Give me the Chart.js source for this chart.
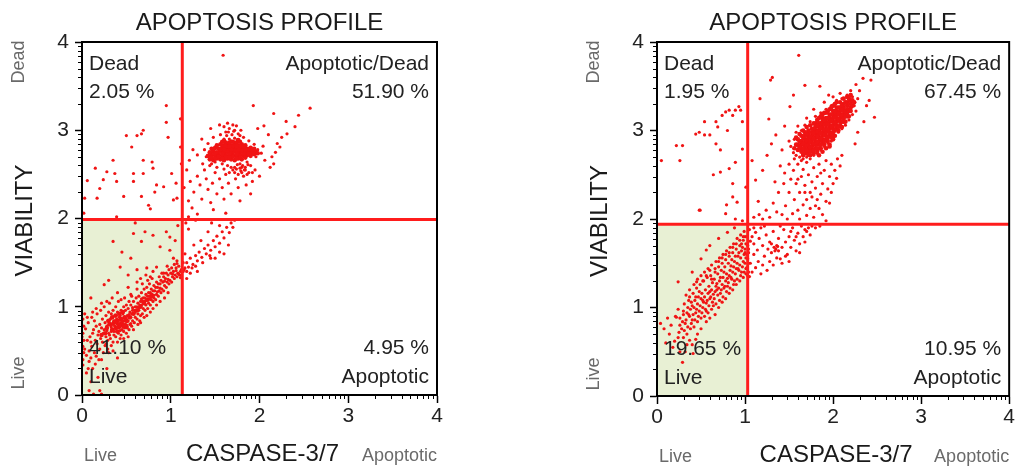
<!DOCTYPE html>
<html>
<head>
<meta charset="utf-8">
<script src="https://cdn.jsdelivr.net/npm/chart.js@4.4.1/dist/chart.umd.min.js"></script>
<style>
body{margin:0;background:#fff;width:1016px;height:471px;overflow:hidden;position:relative;}
canvas{position:absolute;top:0;}
#c1{left:0;}
#c2{left:570px;}
</style>
</head>
<body>
<canvas id="c1" width="500" height="471"></canvas>
<canvas id="c2" width="446" height="471"></canvas>
<script>
// axis ticks (decades)
var tickValues = [0, 1, 2, 3, 4];
// quadrant gates [left panel, right panel]
var gateX = [1.13, 1.03];
var gateY = [1.99, 1.94];
// quadrant percentages: dead, apoptotic/dead, live, apoptotic
var pctLeft = ['2.05 %', '51.90 %', '41.10 %', '4.95 %'];
var pctRight = ['1.95 %', '67.45 %', '19.65 %', '10.95 %'];

// ---- left panel events ----
var leftDead = [[0.06,2.43],[0.15,2.57],[0.20,2.34],[0.28,2.53],[0.37,2.51],[0.35,2.66],[0.39,2.42],[0.50,2.94],[0.56,2.81],[0.62,2.94],[0.67,2.96],[0.69,3.00],[0.58,2.51],[0.58,2.42],[0.67,2.25],[0.69,2.51],[0.75,2.15],[0.77,2.11],[0.79,2.64],[0.84,2.38],[0.82,2.30],[0.92,2.36],[0.95,3.28],[0.95,3.09],[0.97,2.92],[1.03,2.21],[1.07,2.23],[1.11,3.13],[1.12,2.62],[1.11,2.81],[0.03,2.23],[0.02,2.06],[0.39,2.02],[0.17,2.23],[0.47,2.25],[0.69,2.66],[1.01,2.51],[0.80,2.57],[0.24,2.44],[1.06,2.40]];
var leftUpper = [[1.59,3.85],[1.93,3.28],[2.16,3.19],[2.57,3.25],[2.44,3.17],[2.40,3.04],[2.31,2.96],[2.25,2.92],[2.20,2.85],[2.23,2.81],[2.18,2.75],[2.14,2.70],[2.16,2.62],[2.12,2.58],[2.30,3.10],[2.05,3.05],[2.10,2.95],[1.98,3.02],[1.45,3.02],[1.55,3.06],[1.35,2.90],[1.30,2.72],[1.25,2.78],[1.21,2.66],
[1.18,2.55],[1.22,2.42],[1.26,2.30],[1.20,2.20],[1.24,2.12],[1.30,2.48],[1.33,2.38],[1.35,2.22],[1.38,2.55],[1.40,2.45],[1.42,2.33],[1.45,2.18],[1.47,2.40],[1.50,2.52],[1.52,2.28],[1.55,2.45],[1.58,2.35],[1.60,2.22],[1.62,2.50],[1.65,2.40],[1.68,2.28],[1.70,2.55],[1.73,2.45],[1.76,2.35],[1.78,2.20],[1.82,2.48],[1.85,2.38],[1.88,2.52],[1.92,2.42],[1.95,2.55],[2.00,2.48],[1.30,2.05],[1.48,2.10],[1.62,2.06],[1.15,2.35],[1.36,2.62],[1.44,2.60],[1.90,2.28],
[1.38,2.78],[1.40,2.70],[1.42,2.85],[1.46,2.62],[1.48,2.92],[1.50,2.64],[1.52,2.58],[1.56,2.95],[1.58,2.62],[1.60,2.56],[1.62,2.98],[1.64,2.60],[1.66,3.02],[1.68,2.58],[1.72,3.00],[1.74,2.56],[1.76,2.96],[1.78,2.62],[1.80,2.58],[1.82,2.92],[1.84,2.55],[1.86,2.64],[1.88,2.88],[1.90,2.60],[1.94,2.84],[1.96,2.70],[1.98,2.78],[2.02,2.74],[2.04,2.82],[2.06,2.66],[1.92,2.52],[1.86,2.50],[1.80,2.52],[1.76,2.50],[1.72,2.52],[1.66,2.52],[1.60,3.04],[1.70,3.06],[1.64,3.08],[1.74,3.05],[1.79,3.00],
[1.60,2.90],[1.63,2.94],[1.66,2.90],[1.69,2.95],[1.72,2.91],[1.75,2.89],[1.78,2.94],[1.65,2.98],[1.71,2.99],[1.68,2.88],
[1.72,2.58],[1.75,2.61],[1.78,2.57],[1.81,2.60],[1.84,2.58],[1.87,2.61],[1.79,2.54],[1.83,2.55]];
var leftCore = [[1.44,2.67],[1.48,2.66],[1.52,2.68],[1.56,2.67],[1.60,2.66],[1.64,2.68],[1.68,2.67],[1.72,2.66],[1.76,2.68],[1.80,2.67],
[1.42,2.71],[1.46,2.72],[1.50,2.71],[1.54,2.72],[1.58,2.71],[1.62,2.72],[1.66,2.71],[1.70,2.72],[1.74,2.71],[1.78,2.72],[1.82,2.71],[1.86,2.72],[1.90,2.71],
[1.44,2.75],[1.48,2.76],[1.52,2.75],[1.56,2.76],[1.60,2.75],[1.64,2.76],[1.68,2.75],[1.72,2.76],[1.76,2.75],[1.80,2.76],[1.84,2.75],[1.88,2.76],[1.92,2.75],[1.96,2.76],
[1.46,2.79],[1.50,2.80],[1.54,2.79],[1.58,2.80],[1.62,2.79],[1.66,2.80],[1.70,2.79],[1.74,2.80],[1.78,2.79],[1.82,2.80],[1.86,2.79],[1.90,2.80],[1.94,2.79],
[1.52,2.83],[1.56,2.84],[1.60,2.83],[1.64,2.84],[1.68,2.83],[1.72,2.84],[1.76,2.83],[1.80,2.84],[1.84,2.83],
[1.58,2.87],[1.62,2.86],[1.70,2.87],[1.74,2.86],[1.78,2.87],
[1.46,2.69],[1.54,2.70],[1.62,2.69],[1.70,2.70],[1.78,2.69],[1.50,2.74],[1.58,2.73],[1.66,2.74],[1.74,2.73],[1.82,2.74],[1.90,2.73],[1.56,2.78],[1.64,2.77],[1.72,2.78],[1.80,2.77],[1.88,2.78],[1.62,2.82],[1.70,2.81],[1.78,2.82],
[1.50,2.68],[1.58,2.68],[1.66,2.69],[1.74,2.68],[1.84,2.69],[1.88,2.73],[1.94,2.73],[1.98,2.74],[1.48,2.78],[1.60,2.78],[1.68,2.78],[1.76,2.78],[1.84,2.78],[1.92,2.78],[1.66,2.82],[1.74,2.82],[1.82,2.82],[1.66,2.86],[1.60,2.88],[1.76,2.89]];
var leftBridge = [[1.15,1.42],[1.18,1.50],[1.20,1.45],[1.22,1.55],[1.25,1.48],[1.28,1.58],[1.30,1.52],[1.32,1.62],[1.35,1.56],[1.38,1.66],[1.40,1.60],[1.42,1.70],[1.45,1.64],[1.48,1.75],[1.50,1.68],[1.52,1.80],[1.55,1.72],[1.58,1.85],[1.60,1.78],[1.63,1.90],[1.66,1.84],[1.68,1.95],[1.70,1.90],[1.72,1.98],[1.26,1.70],[1.34,1.75],[1.42,1.85],[1.50,1.55],[1.55,1.92],[1.46,1.95],[1.20,1.88],[1.17,1.95],[1.16,1.60],[1.14,1.50],[1.24,1.44],[1.28,1.46],[1.36,1.50],[1.44,1.58],[1.60,1.60],[1.20,2.02],[1.28,1.98],[1.18,1.32],[1.22,1.38],[1.30,1.40],[1.45,1.55],[1.55,1.62],[1.65,1.70],[1.12,1.36],[1.14,1.40],[1.16,1.44],[1.18,1.40]];
var leftLive = [[0.58,1.83],[0.71,1.85],[0.80,1.81],[0.35,1.74],[0.67,1.74],[0.95,1.85],[0.99,1.79],[0.43,1.45],[0.52,1.36],[0.62,1.42],[0.73,1.44],[0.84,1.45],[0.77,1.34],[0.92,1.38],[0.99,1.64],[1.03,1.55],[1.07,1.49],[0.45,1.62],[0.55,1.55],[0.30,1.30],[0.25,1.25],[0.88,1.68],[1.05,1.75],[1.08,1.92],[0.60,1.95],[0.10,1.10],
[0.01,0.40],[0.02,0.48],[0.01,0.55],[0.02,0.62],[0.01,0.70],[0.02,0.78],[0.01,0.86],[0.03,0.52],[0.00,0.66],[0.03,0.92],[0.01,0.34],
[0.05,0.25],[0.10,0.15],[0.15,0.35],[0.20,0.05],[0.22,0.40],[0.28,0.30],[0.08,0.05],[0.30,0.48],[0.12,0.30],[0.35,0.50],[0.40,0.42],[0.18,0.20],[0.13,0.01],[0.22,0.01],
[0.05,0.45],[0.06,0.62],[0.04,0.75],[0.08,0.50],[0.09,0.66],[0.07,0.82],[0.08,0.38],[0.11,0.55],[0.12,0.70],[0.10,0.60],[0.11,0.88],[0.14,0.48],[0.15,0.62],[0.13,0.74],[0.14,0.84],[0.17,0.58],[0.18,0.68],[0.16,0.78],[0.17,0.92],[0.20,0.52],[0.21,0.64],[0.19,0.72],[0.20,0.80],[0.21,0.96],[0.23,0.60],[0.24,0.70],[0.22,0.76],[0.23,0.86],[0.26,0.56],[0.27,0.66],[0.25,0.74],[0.26,0.82],[0.27,0.90],[0.25,1.00],[0.29,0.62],[0.30,0.70],[0.28,0.78],[0.29,0.84],[0.30,0.94],[0.32,0.64],[0.33,0.72],[0.31,0.80],[0.32,0.86],[0.33,0.92],[0.31,1.04],
[0.35,0.60],[0.36,0.68],[0.34,0.74],[0.35,0.80],[0.36,0.84],[0.34,0.88],[0.35,0.96],[0.38,0.66],[0.39,0.72],[0.37,0.78],[0.38,0.82],[0.39,0.86],[0.37,0.90],[0.38,1.00],[0.41,0.70],[0.42,0.76],[0.40,0.80],[0.41,0.84],[0.42,0.88],[0.40,0.94],[0.41,1.06],[0.44,0.68],[0.45,0.74],[0.43,0.78],[0.44,0.82],[0.45,0.86],[0.43,0.90],[0.44,0.96],[0.47,0.72],[0.48,0.76],[0.46,0.80],[0.47,0.84],[0.48,0.88],[0.46,0.92],[0.47,1.00],[0.48,1.10],[0.50,0.70],[0.51,0.76],[0.49,0.80],[0.50,0.86],[0.51,0.90],[0.49,0.96],[0.50,1.02],
[0.53,0.74],[0.54,0.80],[0.52,0.84],[0.53,0.88],[0.54,0.94],[0.52,0.98],[0.53,1.06],[0.56,0.78],[0.57,0.84],[0.55,0.88],[0.56,0.92],[0.57,0.96],[0.55,1.02],[0.56,1.12],[0.59,0.82],[0.60,0.88],[0.58,0.92],[0.59,0.96],[0.60,1.00],[0.58,1.06],[0.62,0.86],[0.63,0.92],[0.61,0.96],[0.62,1.00],[0.63,1.04],[0.61,1.10],[0.62,1.20],[0.65,0.84],[0.66,0.90],[0.64,0.96],[0.65,1.02],[0.66,1.06],[0.64,1.12],
[0.68,0.92],[0.69,0.98],[0.67,1.02],[0.68,1.06],[0.69,1.10],[0.67,1.16],[0.68,1.26],[0.71,0.96],[0.72,1.02],[0.70,1.06],[0.71,1.10],[0.72,1.14],[0.70,1.20],[0.74,0.98],[0.75,1.04],[0.73,1.08],[0.74,1.12],[0.75,1.16],[0.73,1.22],[0.74,1.30],[0.77,1.02],[0.78,1.08],[0.76,1.12],[0.77,1.16],[0.78,1.20],[0.76,1.26],
[0.80,1.06],[0.81,1.10],[0.79,1.14],[0.80,1.18],[0.81,1.24],[0.79,1.32],[0.83,1.08],[0.84,1.14],[0.82,1.18],[0.83,1.22],[0.84,1.28],[0.86,1.12],[0.87,1.18],[0.85,1.22],[0.86,1.26],[0.87,1.34],[0.89,1.16],[0.90,1.20],[0.88,1.26],[0.89,1.30],[0.90,1.38],[0.92,1.18],[0.93,1.24],[0.91,1.28],[0.92,1.34],
[0.95,1.22],[0.96,1.28],[0.94,1.32],[0.95,1.38],[0.96,1.46],[0.98,1.26],[0.99,1.30],[0.97,1.36],[0.98,1.42],[1.01,1.28],[1.02,1.34],[1.00,1.38],[1.01,1.44],[1.04,1.32],[1.05,1.36],[1.03,1.40],[1.04,1.48],[1.07,1.34],[1.08,1.38],[1.06,1.44],[1.07,1.52],[1.10,1.36],[1.11,1.40],[1.09,1.46]];
var leftLiveExtra = [[0.47,0.64],[0.52,0.66],[0.44,1.08],[0.55,1.14],[0.58,0.74],[0.63,0.80],[0.66,0.82],[0.70,0.88],[0.73,0.90],[0.77,0.94],[0.80,0.98],[0.84,1.02],[0.88,1.06],[0.93,1.10],[0.97,1.16],[0.62,1.28],[0.66,1.32],[0.72,1.36],[0.80,1.40],[0.52,1.22],[0.40,1.16],[0.34,1.10],[0.28,1.06],[0.22,1.04],[0.16,0.98],[0.12,0.94],[0.06,0.88],[0.07,0.30],[0.10,0.42],[0.16,0.44],[0.19,0.40],[0.24,0.48],[0.29,0.52],[0.33,0.56],[0.40,0.60],[0.43,0.64],[0.27,0.58],[0.31,0.68],[0.36,0.72],[0.39,0.76],[0.42,0.81],[0.45,0.83],[0.49,0.85],[0.51,0.83],[0.43,0.73],[0.40,0.77],[0.37,0.84],[0.33,0.77],[0.30,0.80],[0.28,0.73],[0.46,0.77],[0.53,0.91],[0.55,0.81],[0.60,0.94],[0.64,0.99],[0.57,0.99],[0.67,1.09],[0.72,1.07],[0.76,1.09],[0.81,1.13],[0.85,1.17],[0.88,1.21],[0.93,1.29],[0.97,1.31],[1.02,1.37],[1.06,1.41],[1.09,1.37],[1.12,1.42],[1.11,1.33]];
var leftLiveCore = [[0.28,0.76],[0.32,0.80],[0.36,0.82],[0.40,0.84],[0.44,0.86],[0.48,0.88],[0.34,0.74],[0.38,0.76],[0.42,0.78],[0.46,0.80],[0.50,0.84],[0.54,0.88],[0.30,0.84],[0.34,0.88],[0.38,0.90],[0.42,0.92],[0.46,0.94],[0.58,0.92],[0.62,0.96],[0.66,1.00],[0.70,1.04],[0.74,1.08],[0.78,1.12],[0.40,0.72],[0.50,0.78],[0.26,0.70],[0.22,0.68]];

// ---- right panel events ----
var rightDead = [[0.05,2.66],[0.22,2.83],[0.29,2.83],[0.26,2.66],[0.44,2.96],[0.48,2.98],[0.54,3.10],[0.67,3.10],[0.69,3.04],[0.74,3.17],[0.78,3.21],[0.82,3.23],[0.86,3.17],[0.89,3.23],[0.93,3.27],[0.95,3.23],[0.54,2.95],[0.67,2.85],[0.72,2.78],[0.72,2.53],[0.82,2.57],[0.86,2.40],[0.89,2.64],[0.97,2.79],[0.97,3.10],[0.48,2.10],[0.78,2.06],[0.89,2.00],[0.97,1.98],[0.86,2.25],[1.01,2.36],[0.91,2.19],[0.60,2.95],[0.80,3.00],[0.64,2.50]];
var rightUpper = [[1.61,3.85],[1.31,3.60],[1.29,3.57],[1.17,3.36],[1.68,3.51],[1.27,3.13],[1.51,3.27],[1.12,2.44],[1.08,2.66],[1.42,2.78],[2.43,3.57],[2.34,3.59],[2.47,3.15],[2.41,3.34],[2.38,3.28],[2.30,3.45],[2.26,3.52],[2.20,3.45],[1.55,3.40],[1.85,3.50],[1.95,3.40],[1.45,3.05],[1.35,2.95],[1.25,2.72],[1.20,2.55],[1.30,2.85],[1.15,2.20],[2.35,3.10],[2.28,2.98],[2.25,2.85],
[1.55,2.75],[1.52,2.82],[1.56,2.90],[1.58,2.98],[1.60,3.05],[1.62,2.70],[1.66,2.68],[1.70,2.70],[1.74,2.68],[1.78,2.72],[1.82,2.74],[1.86,2.78],[1.90,2.82],[1.94,2.86],[1.98,2.88],[2.02,2.94],[2.06,2.98],[2.10,3.02],[2.14,3.06],[2.18,3.12],[2.22,3.18],[2.24,3.28],[2.22,3.38],[2.16,3.40],[2.10,3.36],[2.04,3.34],[1.98,3.28],[1.92,3.24],[1.86,3.20],[1.80,3.16],[1.74,3.10],[1.68,3.06],[1.64,3.00],[2.00,3.38],[2.08,3.42],[1.90,3.32],[2.26,3.22],[2.28,3.36],[1.70,3.14],[1.78,3.24],[1.50,2.88],[1.58,2.72],
[1.40,2.60],[1.45,2.52],[1.50,2.62],[1.52,2.45],[1.55,2.55],[1.58,2.40],[1.60,2.62],[1.62,2.30],[1.64,2.48],[1.66,2.56],[1.68,2.38],[1.70,2.22],[1.70,2.64],[1.72,2.50],[1.74,2.30],[1.76,2.42],[1.78,2.58],[1.80,2.15],[1.80,2.35],[1.82,2.48],[1.84,2.62],[1.86,2.28],[1.88,2.40],[1.90,2.55],[1.92,2.20],[1.94,2.34],[1.96,2.48],[1.98,2.62],[2.00,2.40],[2.02,2.55],[2.05,2.68],[2.08,2.60],[2.10,2.72],[1.88,2.05],[1.84,2.12],[1.92,1.98],[1.78,2.02],[1.74,2.12],[1.66,2.16],[1.60,2.10],[1.56,2.22],[1.50,2.30],[1.46,2.15],[1.42,2.05],[1.36,2.08],[1.32,2.18],[1.28,2.02],[1.24,2.10],[1.20,2.00],[1.16,2.05],[1.10,2.02],[1.48,2.00],[1.54,2.06],[1.62,2.00],[1.70,2.04],[1.76,2.25],[1.68,2.30],[1.60,2.45],[1.82,2.22],[1.86,2.52],[1.96,2.18],[1.72,2.72],[1.64,2.66],[1.56,2.68],[1.44,2.40],[1.38,2.30],[1.34,2.42],[1.92,2.66],[1.98,2.30],[2.04,2.46]];
var rightCore = [[1.60,2.78],[1.60,2.84],[1.60,2.90],[1.64,2.76],[1.64,2.80],[1.64,2.84],[1.64,2.88],[1.64,2.94],[1.68,2.78],[1.68,2.82],[1.68,2.86],[1.68,2.90],[1.68,2.94],[1.68,2.98],
[1.72,2.76],[1.72,2.80],[1.72,2.84],[1.72,2.88],[1.72,2.92],[1.72,2.96],[1.72,3.00],[1.76,2.78],[1.76,2.82],[1.76,2.86],[1.76,2.90],[1.76,2.94],[1.76,2.98],[1.76,3.02],
[1.80,2.80],[1.80,2.84],[1.80,2.88],[1.80,2.92],[1.80,2.96],[1.80,3.00],[1.80,3.04],[1.80,3.08],[1.84,2.84],[1.84,2.88],[1.84,2.92],[1.84,2.96],[1.84,3.00],[1.84,3.04],[1.84,3.08],
[1.88,2.86],[1.88,2.90],[1.88,2.94],[1.88,2.98],[1.88,3.02],[1.88,3.06],[1.88,3.10],[1.88,3.14],[1.92,2.90],[1.92,2.94],[1.92,2.98],[1.92,3.02],[1.92,3.06],[1.92,3.10],[1.92,3.14],
[1.96,2.94],[1.96,2.98],[1.96,3.02],[1.96,3.06],[1.96,3.10],[1.96,3.14],[1.96,3.18],[2.00,2.98],[2.00,3.02],[2.00,3.06],[2.00,3.10],[2.00,3.14],[2.00,3.18],[2.00,3.22],
[2.04,3.02],[2.04,3.06],[2.04,3.10],[2.04,3.14],[2.04,3.18],[2.04,3.22],[2.04,3.26],[2.08,3.06],[2.08,3.10],[2.08,3.14],[2.08,3.18],[2.08,3.22],[2.08,3.26],
[2.12,3.10],[2.12,3.14],[2.12,3.18],[2.12,3.22],[2.12,3.26],[2.12,3.30],[2.16,3.16],[2.16,3.20],[2.16,3.24],[2.16,3.28],[2.16,3.32],[2.20,3.22],[2.20,3.26],[2.20,3.30],[2.20,3.34],
[1.62,2.81],[1.66,2.79],[1.66,2.85],[1.70,2.83],[1.70,2.89],[1.74,2.81],[1.74,2.87],[1.74,2.93],[1.78,2.85],[1.78,2.91],[1.78,2.97],[1.82,2.87],[1.82,2.93],[1.82,2.99],[1.86,2.91],[1.86,2.97],[1.86,3.03],[1.90,2.95],[1.90,3.01],[1.90,3.07],[1.94,3.01],[1.94,3.07],[1.98,3.05],[1.98,3.11],[2.02,3.09],[2.02,3.15],[2.06,3.13],[2.06,3.19],[2.10,3.17],[2.10,3.23],[2.14,3.21]];
var rightCoreExtra = [[1.66,2.72],[1.70,2.74],[1.74,2.72],[1.78,2.74],[1.82,2.76],[1.84,2.72],[1.86,2.80],[1.88,2.76],[1.90,2.84],[1.92,2.80],[1.94,2.88],[1.96,2.84],[1.98,2.92],[2.00,2.90],[2.02,2.94],[2.06,3.00],[2.10,3.04],[2.14,3.10],[2.18,3.16],
[1.62,2.96],[1.66,3.00],[1.70,3.04],[1.74,3.06],[1.78,3.08],[1.82,3.12],[1.84,3.14],[1.86,3.16],[1.88,3.18],[1.90,3.20],[1.92,3.20],[1.94,3.22],[1.96,3.24],[1.98,3.26],[2.00,3.28],[2.02,3.30],[2.04,3.32],[2.08,3.32],[2.12,3.36],[2.16,3.38],[2.20,3.40],
[1.70,2.78],[1.74,2.76],[1.78,2.78],[1.82,2.80],[1.86,2.84],[1.90,2.88],[1.94,2.92],[1.98,2.96],[2.02,3.00],[1.78,3.02],[1.82,3.06],[1.86,3.08],[1.90,3.12],[1.94,3.14],[1.98,3.18],[2.02,3.22],[2.06,3.26],[2.10,3.28],[2.14,3.32],[2.18,3.36],[1.66,2.92],[1.70,2.96],[1.62,2.88],[1.58,2.84],[1.58,2.92],[1.56,2.80],[1.66,2.74],[1.96,2.82],[2.00,2.94],[2.06,3.04],[2.10,3.10],[2.14,3.16],[2.18,3.22],[2.22,3.28],[2.22,3.34],[2.24,3.32]];
var rightBridge = [[1.05,1.88],[1.08,1.80],[1.10,1.72],[1.12,1.85],[1.14,1.65],[1.16,1.78],[1.18,1.90],[1.20,1.70],[1.22,1.58],[1.24,1.82],[1.26,1.66],[1.28,1.74],[1.30,1.62],[1.32,1.86],[1.33,1.68],[1.35,1.66],[1.36,1.70],[1.38,1.64],[1.38,1.78],[1.40,1.55],[1.42,1.68],[1.44,1.88],[1.46,1.74],[1.48,1.60],[1.50,1.80],[1.52,1.68],[1.54,1.90],[1.56,1.76],[1.58,1.64],[1.60,1.84],[1.62,1.72],[1.64,1.92],[1.66,1.80],[1.68,1.88],[1.70,1.86],[1.72,1.90],[1.74,1.82],[1.76,1.92],[1.80,1.90],[1.85,1.92],[1.06,1.50],[1.08,1.40],[1.10,1.60],[1.12,1.45],[1.15,1.52],[1.18,1.38],[1.20,1.48],[1.25,1.42],[1.28,1.52],[1.32,1.48],[1.36,1.56],[1.42,1.50],[1.46,1.58],[1.50,1.52],[1.05,1.35],[1.04,1.62],[1.06,1.75],[1.30,1.72],[1.34,1.64],[1.37,1.69],[1.52,1.86],[1.58,1.80],[1.10,1.90],[1.22,1.92],[1.40,1.92],[1.62,1.62],[1.68,1.74],
[1.02,1.45],[1.03,1.55],[1.04,1.50],[1.02,1.60],[1.03,1.70],[1.04,1.40],[1.02,1.80],[1.04,1.66],[1.03,1.36]];
var rightLive = [[0.04,0.82],[0.14,0.70],[0.22,0.89],[0.29,0.38],[0.37,0.63],[0.41,0.48],[0.46,0.70],[0.18,0.55],[0.26,0.50],[0.34,0.58],[0.50,0.76],[0.10,0.60],[0.56,0.84],[0.60,0.88],[0.56,1.65],[0.45,1.29],[0.24,1.29],[0.37,1.12],[0.40,1.40],[0.50,1.55],[0.60,1.70],[0.70,1.78],[0.80,1.85],[0.88,1.90],[0.49,2.10],[0.79,2.16],
[0.20,0.62],[0.21,0.90],[0.25,0.72],[0.26,0.80],[0.24,0.98],[0.30,0.66],[0.31,0.74],[0.29,0.84],[0.30,0.92],[0.31,1.04],[0.34,0.70],[0.35,0.78],[0.33,0.86],[0.34,0.94],[0.35,1.00],[0.33,1.14],
[0.38,0.76],[0.39,0.82],[0.37,0.90],[0.38,0.98],[0.39,1.06],[0.37,1.20],[0.42,0.78],[0.43,0.86],[0.41,0.92],[0.42,1.00],[0.43,1.08],[0.41,1.16],[0.42,1.26],[0.46,0.84],[0.47,0.90],[0.45,0.98],[0.46,1.04],[0.47,1.12],[0.45,1.22],[0.46,1.32],
[0.50,0.88],[0.51,0.94],[0.49,1.02],[0.50,1.10],[0.51,1.16],[0.49,1.26],[0.50,1.36],[0.54,0.90],[0.55,0.98],[0.53,1.06],[0.54,1.12],[0.55,1.20],[0.53,1.30],[0.54,1.40],[0.58,0.94],[0.59,1.02],[0.57,1.08],[0.58,1.16],[0.59,1.24],[0.57,1.34],[0.58,1.44],
[0.62,0.98],[0.63,1.06],[0.61,1.12],[0.62,1.20],[0.63,1.28],[0.61,1.36],[0.62,1.48],[0.66,0.92],[0.67,1.04],[0.65,1.10],[0.66,1.18],[0.67,1.24],[0.65,1.32],[0.66,1.40],[0.67,1.52],[0.70,1.00],[0.71,1.08],[0.69,1.14],[0.70,1.22],[0.71,1.30],[0.69,1.38],[0.70,1.46],[0.71,1.56],
[0.74,1.06],[0.75,1.12],[0.73,1.20],[0.74,1.26],[0.75,1.34],[0.73,1.42],[0.74,1.50],[0.75,1.60],[0.78,1.10],[0.79,1.18],[0.77,1.24],[0.78,1.30],[0.79,1.38],[0.77,1.46],[0.78,1.54],[0.79,1.64],[0.82,1.16],[0.83,1.22],[0.81,1.28],[0.82,1.36],[0.83,1.42],[0.81,1.50],[0.82,1.58],[0.83,1.68],
[0.86,1.20],[0.87,1.26],[0.85,1.32],[0.86,1.40],[0.87,1.46],[0.85,1.54],[0.86,1.62],[0.87,1.72],[0.90,1.26],[0.91,1.32],[0.89,1.38],[0.90,1.44],[0.91,1.50],[0.89,1.58],[0.90,1.66],[0.91,1.78],[0.94,1.30],[0.95,1.36],[0.93,1.42],[0.94,1.48],[0.95,1.56],[0.93,1.62],[0.94,1.70],[0.95,1.82],
[0.98,1.34],[0.99,1.40],[0.97,1.46],[0.98,1.52],[0.99,1.60],[0.97,1.68],[0.98,1.76],[0.99,1.86],[1.01,1.38],[1.01,1.44],[1.00,1.50],[1.01,1.56],[1.00,1.62],[1.01,1.72],[1.00,1.80]];
var rightLiveExtra = [[0.52,1.00],[0.56,1.05],[0.60,1.10],[0.64,1.15],[0.68,1.27],[0.72,1.34],[0.76,1.40],[0.80,1.33],[0.84,1.47],[0.88,1.52],[0.92,1.58],[0.96,1.64],[0.62,1.32],[0.66,1.44],[0.70,1.52],[0.74,1.56],[0.78,1.60],[0.82,1.62],[0.86,1.68],[0.90,1.72],[0.94,1.76],[0.98,1.80],[0.48,1.18],[0.44,1.12],[0.40,1.02],[0.36,0.92],[0.32,0.82],[0.28,0.76],[0.24,0.66],[0.56,0.96],[0.64,1.02],[0.72,1.16],[0.80,1.24],[0.88,1.30],[0.96,1.40],[0.44,0.94],[0.40,0.86],[0.52,1.08],[0.60,1.18],[0.68,1.20],[0.76,1.22],[0.84,1.34],[0.92,1.44],[1.00,1.66],[0.96,1.72],[0.60,1.42],[0.52,1.30],[0.56,1.36],[0.48,0.96],[0.36,1.08],[0.30,0.96],[0.26,0.88],[0.16,0.80],[0.12,0.88],[0.08,0.76],[0.32,0.50],[0.40,0.58],[0.44,0.64]];

var leftSparse = [].concat(leftDead, leftUpper, leftBridge, leftLive, leftLiveExtra);
var leftDense = [].concat(leftCore, leftLiveCore);
var rightSparse = [].concat(rightDead, rightUpper, rightBridge, rightLive, rightLiveExtra);
var rightDense = [].concat(rightCore, rightCoreExtra);

var FONT = "'Liberation Sans', Arial, sans-serif";
var minorLogs = [2, 3, 4, 5, 6, 7, 8, 9].map(function(m){ return Math.log10(m); });

var decor = {
    id: 'decor',
    beforeDatasetsDraw: function(chart, args, o){
        var ctx = chart.ctx, a = chart.chartArea;
        var xs = chart.scales.x, ys = chart.scales.y;
        var gx = xs.getPixelForValue(o.gateX), gy = ys.getPixelForValue(o.gateY);
        ctx.save();
        ctx.fillStyle = 'rgb(232,240,212)';
        ctx.fillRect(a.left, gy, gx - a.left, a.bottom - gy);
        ctx.restore();
    },
    afterDatasetsDraw: function(chart, args, o){
        var ctx = chart.ctx, a = chart.chartArea;
        var xs = chart.scales.x, ys = chart.scales.y;
        var gx = xs.getPixelForValue(o.gateX), gy = ys.getPixelForValue(o.gateY);
        ctx.save();
        // gate lines
        ctx.strokeStyle = '#ff1c1c';
        ctx.lineWidth = 3;
        ctx.beginPath();
        ctx.moveTo(gx, a.top); ctx.lineTo(gx, a.bottom);
        ctx.moveTo(a.left, gy); ctx.lineTo(a.right, gy);
        ctx.stroke();
        // box
        ctx.strokeStyle = '#000';
        ctx.lineWidth = 2;
        ctx.strokeRect(a.left, a.top, a.right - a.left, a.bottom - a.top);
        // minor log ticks
        ctx.lineWidth = 1;
        ctx.beginPath();
        for (var k = 0; k < 4; k++) {
            for (var i = 0; i < minorLogs.length; i++) {
                var px = Math.round(xs.getPixelForValue(k + minorLogs[i])) + 0.5;
                ctx.moveTo(px, a.bottom); ctx.lineTo(px, a.bottom + 4);
                var py = Math.round(ys.getPixelForValue(k + minorLogs[i])) + 0.5;
                ctx.moveTo(a.left - 4, py); ctx.lineTo(a.left, py);
            }
        }
        ctx.stroke();
        // title
        var cx = (a.left + a.right) / 2;
        ctx.fillStyle = '#1a1a1a';
        ctx.textBaseline = 'alphabetic';
        ctx.textAlign = 'center';
        ctx.font = '24px ' + FONT;
        ctx.fillText('APOPTOSIS PROFILE', cx, a.top - 12);
        ctx.fillText('CASPASE-3/7', cx + 3, a.bottom + 66);
        // quadrant labels
        ctx.font = '21px ' + FONT;
        ctx.fillStyle = '#222';
        ctx.textAlign = 'left';
        ctx.fillText('Dead', a.left + 7, a.top + 28);
        ctx.fillText(o.pct[0], a.left + 7, a.top + 56);
        ctx.fillText(o.pct[2], a.left + 7, a.bottom - 41);
        ctx.fillText('Live', a.left + 7, a.bottom - 12);
        ctx.textAlign = 'right';
        ctx.fillText('Apoptotic/Dead', a.right - 8, a.top + 28);
        ctx.fillText(o.pct[1], a.right - 8, a.top + 56);
        ctx.fillText(o.pct[3], a.right - 8, a.bottom - 41);
        ctx.fillText('Apoptotic', a.right - 8, a.bottom - 12);
        // bottom side labels
        ctx.font = '18px ' + FONT;
        ctx.fillStyle = '#6a6a6a';
        ctx.textAlign = 'left';
        ctx.fillText('Live', a.left + 2, a.bottom + 66);
        ctx.textAlign = 'right';
        ctx.fillText('Apoptotic', a.right, a.bottom + 66);
        // rotated y labels
        ctx.textAlign = 'center';
        ctx.textBaseline = 'middle';
        ctx.save();
        ctx.translate(a.left - 63, a.top + 20);
        ctx.rotate(-Math.PI / 2);
        ctx.fillText('Dead', 0, 0);
        ctx.restore();
        ctx.save();
        ctx.translate(a.left - 63, a.bottom - 22);
        ctx.rotate(-Math.PI / 2);
        ctx.fillText('Live', 0, 0);
        ctx.restore();
        ctx.save();
        ctx.fillStyle = '#1a1a1a';
        ctx.font = '24px ' + FONT;
        ctx.translate(a.left - 57, (a.top + a.bottom) / 2 + 2);
        ctx.rotate(-Math.PI / 2);
        ctx.fillText('VIABILITY', 0, 0);
        ctx.restore();
        ctx.restore();
    }
};

function pts(list){
    return list.map(function(p){ return {x: p[0], y: p[1]}; });
}

function makeChart(id, sparse, dense, gx, gy, pct, yWidth, xHeight, padRight){
    var ctx = document.getElementById(id).getContext('2d');
    return new Chart(ctx, {
        type: 'scatter',
        data: {
            datasets: [{
                label: 'events',
                data: pts(sparse),
                backgroundColor: 'rgb(240,20,20)',
                borderWidth: 0,
                pointRadius: 1.6,
                pointHoverRadius: 1.6
            }, {
                label: 'dense events',
                data: pts(dense),
                backgroundColor: 'rgb(240,20,20)',
                borderWidth: 0,
                pointRadius: 2.3,
                pointHoverRadius: 2.3
            }]
        },
        options: {
            responsive: false,
            animation: false,
            devicePixelRatio: 1,
            layout: { padding: { top: 42, right: padRight, left: 0, bottom: 0 } },
            plugins: {
                legend: { display: false },
                tooltip: { enabled: false },
                decor: { gateX: gx, gateY: gy, pct: pct }
            },
            scales: {
                x: {
                    type: 'linear', min: 0, max: 4,
                    afterBuildTicks: function(s){ s.ticks = tickValues.map(function(v){ return {value: v}; }); },
                    afterFit: function(s){ s.height = xHeight; },
                    ticks: { font: { family: FONT, size: 21 }, color: '#222', padding: 1, maxRotation: 0 },
                    grid: { drawOnChartArea: false, drawTicks: true, tickLength: 8, tickColor: '#000', tickWidth: 1.5 },
                    border: { display: true, color: '#000', width: 2 }
                },
                y: {
                    type: 'linear', min: 0, max: 4,
                    afterBuildTicks: function(s){ s.ticks = tickValues.map(function(v){ return {value: v}; }); },
                    afterFit: function(s){ s.width = yWidth; },
                    ticks: { font: { family: FONT, size: 21 }, color: '#222', padding: 6 },
                    grid: { drawOnChartArea: false, drawTicks: true, tickLength: 7, tickColor: '#000', tickWidth: 1.5 },
                    border: { display: true, color: '#000', width: 2 }
                }
            }
        },
        plugins: [decor]
    });
}

makeChart('c1', leftSparse, leftDense, gateX[0], gateY[0], pctLeft, 82, 76, 63);
makeChart('c2', rightSparse, rightDense, gateX[1], gateY[1], pctRight, 87, 75, 3);
</script>
</body>
</html>
